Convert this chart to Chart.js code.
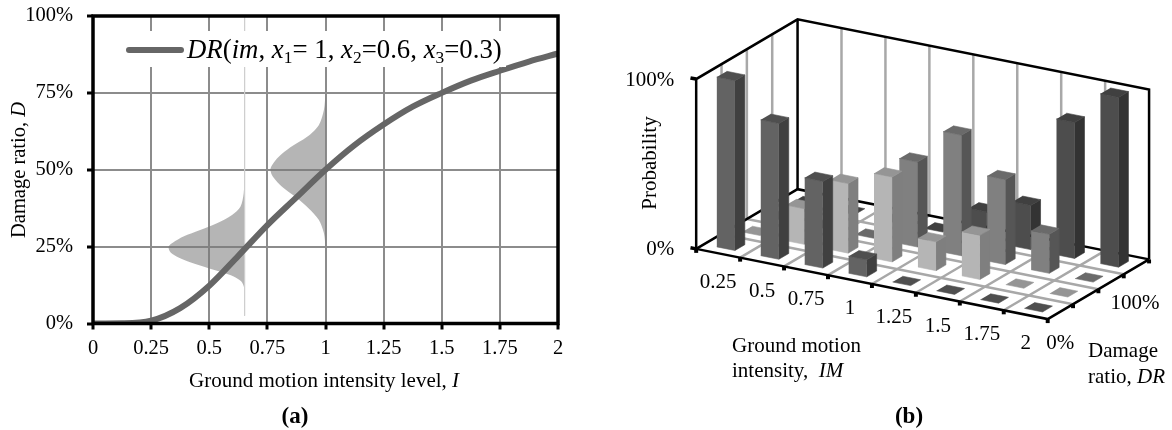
<!DOCTYPE html>
<html>
<head>
<meta charset="utf-8">
<title>Damage ratio charts</title>
<script src="https://cdn.jsdelivr.net/npm/chart.js@4/dist/chart.umd.min.js"></script>
<style>
  html, body { margin: 0; padding: 0; background: #fff; overflow: hidden; }
  canvas { position: absolute; top: 0; }
  #chartA { left: 0; }
  #chartB { left: 600px; }
</style>
</head>
<body>
<canvas id="chartA" width="590" height="430"></canvas>
<canvas id="chartB" width="572" height="430"></canvas>
<script>
// panel (a): vulnerability curve
const curveIntensity = [0, 0.125, 0.25, 0.375, 0.5, 0.625, 0.75, 0.875, 1, 1.125, 1.25, 1.375, 1.5, 1.625, 1.75, 1.875, 2];
const curveDamage = [0, 0.05, 0.9, 5, 12.3, 22, 32, 41, 50, 58, 64.7, 70.5, 75, 79, 82.2, 85.2, 87.8];

// spread of the damage ratio around two intensity levels
const spreadLowX = [0.652, 0.648, 0.634, 0.598, 0.533, 0.461, 0.389, 0.343, 0.325, 0.335, 0.368, 0.418, 0.497, 0.555, 0.605, 0.637, 0.65, 0.652];
const spreadLowD = [48.8, 42.3, 38, 35.3, 32.6, 30.4, 28.3, 26.3, 25, 23, 21.5, 19.9, 18, 16.7, 15.3, 13.7, 11.6, 7.8];
const spreadHighX = [1, 0.993, 0.971, 0.921, 0.849, 0.799, 0.77, 0.763, 0.774, 0.813, 0.871, 0.928, 0.971, 0.993, 1];
const spreadHighD = [74.8, 69.4, 64.5, 60.7, 57.3, 54.2, 51.5, 50, 47.7, 44.5, 41.2, 37.4, 33.7, 29.4, 25];
const spreadEdgeX = [0.652, 0.652];
const spreadEdgeD = [100, 2.5];

const intensityTicks = ["0", "0.25", "0.5", "0.75", "1", "1.25", "1.5", "1.75", "2"];
const damageTicks = ["0%", "25%", "50%", "75%", "100%"];

// panel (b): probability (%) per damage ratio row, front row first
const imLabels = ["0.25", "0.5", "0.75", "1", "1.25", "1.5", "1.75", "2"];
const drLabels = ["0%", "", "100%", ""];
const probRow0 = [100, 80, 51, 10, 0, 0, 0, 0];
const probRow1 = [0, 21, 41, 50, 17, 26, 0, 0];
const probRow2 = [0, 0, 0, 50, 71, 50, 23, 0];
const probRow3 = [0, 0, 0, 0, 17, 26, 80, 100];
const probRows = [probRow0, probRow1, probRow2, probRow3];

const SERIF = "'Liberation Serif', 'Times New Roman', serif";
const GRID = "#8c8c8c";

// draws runs of mixed roman/italic/subscript text, returns the width used
function richText(ctx, runs, x, y, size) {
  let cx = x;
  ctx.textAlign = "left";
  ctx.textBaseline = "alphabetic";
  ctx.fillStyle = "#000";
  runs.forEach((r) => {
    const s = r.sub ? size * 0.65 : size;
    ctx.font = (r.it ? "italic " : "") + s + "px " + SERIF;
    ctx.fillText(r.t, cx, r.sub ? y + size * 0.2 : y);
    cx += ctx.measureText(r.t).width;
  });
  return cx - x;
}

const legendRuns = [
  { t: "DR", it: 1 }, { t: "(" }, { t: "im", it: 1 }, { t: ", " },
  { t: "x", it: 1 }, { t: "1", sub: 1 }, { t: "= 1, " },
  { t: "x", it: 1 }, { t: "2", sub: 1 }, { t: "=0.6, " },
  { t: "x", it: 1 }, { t: "3", sub: 1 }, { t: "=0.3)" },
];

const panelA = {
  id: "panelA",
  afterDraw(chart) {
    const ctx = chart.ctx;
    const a = chart.chartArea;
    ctx.save();
    // legend box hides the grid behind it
    ctx.fillStyle = "#fff";
    ctx.fillRect(125, 31, 381, 36);
    ctx.strokeStyle = "#666";
    ctx.lineWidth = 6;
    ctx.lineCap = "round";
    ctx.beginPath();
    ctx.moveTo(129, 50);
    ctx.lineTo(181, 50);
    ctx.stroke();
    richText(ctx, legendRuns, 187, 58, 26.8);
    // frame
    ctx.strokeStyle = "#000";
    ctx.lineWidth = 3.5;
    ctx.lineCap = "butt";
    ctx.strokeRect(a.left, a.top, a.right - a.left, a.bottom - a.top);
    // caption and axis titles
    ctx.fillStyle = "#000";
    ctx.font = "bold 23px " + SERIF;
    ctx.textAlign = "center";
    ctx.textBaseline = "middle";
    ctx.fillText("(a)", 295, 417);
    richText(ctx, [{ t: "Ground motion intensity level, " }, { t: "I", it: 1 }], 189, 387, 21);
    ctx.translate(25, 238);
    ctx.rotate(-Math.PI / 2);
    richText(ctx, [{ t: "Damage ratio, " }, { t: "D", it: 1 }], 0, 0, 20.5);
    ctx.restore();
  },
};

const toPoints = (xs, ys) => xs.map((x, i) => ({ x: x, y: ys[i] }));

new Chart(document.getElementById("chartA"), {
  type: "scatter",
  plugins: [panelA],
  data: {
    datasets: [
      {
        data: toPoints(curveIntensity, curveDamage),
        showLine: true,
        borderColor: "#666",
        borderWidth: 6,
        pointRadius: 0,
        cubicInterpolationMode: "monotone",
      },
      {
        data: toPoints(spreadEdgeX, spreadEdgeD),
        showLine: true,
        borderColor: "#cfcfcf",
        borderWidth: 1,
        pointRadius: 0,
      },
      {
        data: toPoints(spreadLowX, spreadLowD),
        showLine: true,
        fill: "shape",
        tension: 0.3,
        backgroundColor: "rgba(120,120,120,0.55)",
        borderWidth: 0,
        pointRadius: 0,
      },
      {
        data: toPoints(spreadHighX, spreadHighD),
        showLine: true,
        fill: "shape",
        tension: 0.3,
        backgroundColor: "rgba(120,120,120,0.55)",
        borderWidth: 0,
        pointRadius: 0,
      },
    ],
  },
  options: {
    responsive: false,
    animation: false,
    devicePixelRatio: 1,
    layout: { padding: { top: 16, right: 32, left: 0, bottom: 0 } },
    plugins: {
      legend: { display: false },
      tooltip: { enabled: false },
      title: { display: false },
    },
    scales: {
      x: {
        type: "linear",
        min: 0,
        max: 2,
        afterFit: (s) => {
          s.height = 106.5;
          s.paddingLeft = 0;
          s.paddingRight = 0;
        },
        border: { display: false },
        grid: { color: GRID, lineWidth: 2, tickColor: "#000", tickWidth: 3, tickLength: 6 },
        ticks: {
          stepSize: 0.25,
          maxRotation: 0,
          padding: 7,
          color: "#000",
          font: { family: SERIF, size: 20.5 },
          callback: (v, i) => intensityTicks[i],
        },
      },
      y: {
        min: 0,
        max: 100,
        afterFit: (s) => {
          s.width = 93;
          s.paddingTop = 0;
          s.paddingBottom = 0;
        },
        border: { display: false },
        grid: { color: GRID, lineWidth: 2, tickColor: "#000", tickWidth: 3, tickLength: 6 },
        ticks: {
          stepSize: 25,
          padding: 14,
          color: "#000",
          font: { family: SERIF, size: 20.5 },
          callback: (v, i) => damageTicks[i],
        },
      },
    },
  },
});

// oblique projection of (im column, dr row, probability) onto the two axes
const SLOPE = 0.0517;
const DEPTH_X = 0.5768;
const DEPTH_Y = 0.0879;
const project = (col, row, p) => ({ x: col + row * DEPTH_X, y: p - col * SLOPE + row * DEPTH_Y });

const BAR_HALF_W = 0.206;
const BAR_HALF_D = 0.195;
const rowColors = [
  { front: "#636363", side: "#404040", top: "#4f4f4f" },
  { front: "#b5b5b5", side: "#7f7f7f", top: "#959595" },
  { front: "#808080", side: "#565656", top: "#6a6a6a" },
  { front: "#4d4d4d", side: "#333333", top: "#404040" },
];

const nCols = imLabels.length;
const nRows = probRows.length;
const paint = []; // back to front

function addLine(points, color, width) {
  paint.push({ data: points, showLine: true, borderColor: color, borderWidth: width, pointRadius: 0 });
}
function addFace(points, color) {
  paint.push({
    data: points,
    showLine: true,
    fill: "shape",
    backgroundColor: color,
    borderColor: color,
    borderWidth: 0.6,
    pointRadius: 0,
  });
}

// walls and floor grid
const WALL_GREY = "#a8a8a8";
for (let c = 1; c < nCols; c++) {
  addLine([project(c, nRows, 1), project(c, nRows, 0)], WALL_GREY, 2.5);
  addLine([project(c, 0, 0), project(c, nRows, 0)], WALL_GREY, 2.5);
}
for (let r = 1; r < nRows; r++) {
  addLine([project(0, r, 1), project(0, r, 0)], WALL_GREY, 2.5);
  addLine([project(0, r, 0), project(nCols, r, 0)], WALL_GREY, 2.5);
}

// box edges
addLine([project(0, 0, 0), project(0, 0, 1), project(0, nRows, 1), project(nCols, nRows, 1), project(nCols, nRows, 0)], "#000", 2.5);
addLine([project(0, nRows, 1), project(0, nRows, 0)], "#000", 2.5);
addLine([project(0, 0, 0), project(0, nRows, 0), project(nCols, nRows, 0)], "#000", 2.5);
addLine([project(0, 0, 0), project(nCols, 0, 0), project(nCols, nRows, 0)], "#000", 2.5);
addLine([project(-0.13, 0, 1), project(0, 0, 1)], "#000", 3.5);
addLine([project(-0.13, 0, 0), project(0, 0, 0)], "#000", 3.5);

// tick squares under the floor edges
const tickPoints = [];
for (let c = 0; c <= nCols; c++) tickPoints.push(project(c, 0, -0.012));
for (let r = 1; r <= nRows; r++) tickPoints.push(project(nCols, r, -0.012));
paint.push({ data: tickPoints, showLine: false, pointStyle: "rect", pointRadius: 2.8, pointBackgroundColor: "#000", pointBorderWidth: 0 });

// bars, far row first and left to right inside a row
for (let r = nRows - 1; r >= 0; r--) {
  probRows[r].forEach((value, c) => {
    const p = value / 100;
    const x0 = c + 0.5 - BAR_HALF_W;
    const x1 = c + 0.5 + BAR_HALF_W;
    const d0 = r + 0.5 - BAR_HALF_D;
    const d1 = r + 0.5 + BAR_HALF_D;
    const col = rowColors[r];
    if (p > 0) {
      addFace([project(x0, d0, 0), project(x1, d0, 0), project(x1, d0, p), project(x0, d0, p)], col.front);
      addFace([project(x1, d0, 0), project(x1, d1, 0), project(x1, d1, p), project(x1, d0, p)], col.side);
    }
    addFace([project(x0, d0, p), project(x1, d0, p), project(x1, d1, p), project(x0, d1, p)], col.top);
  });
}

const panelB = {
  id: "panelB",
  afterDatasetsDraw(chart) {
    const ctx = chart.ctx;
    const sx = chart.scales.x;
    const sy = chart.scales.y;
    const at = (pt) => ({ x: sx.getPixelForValue(pt.x), y: sy.getPixelForValue(pt.y) });
    ctx.save();
    ctx.fillStyle = "#000";
    ctx.font = "21px " + SERIF;
    ctx.textBaseline = "middle";
    ctx.textAlign = "center";
    imLabels.forEach((label, c) => {
      const p = at(project(c + 0.5, 0, 0));
      ctx.fillText(label, p.x, p.y + 29);
    });
    drLabels.forEach((label, r) => {
      if (!label) return;
      const p = at(project(nCols, r + 0.5, 0));
      ctx.fillText(label, p.x + (r ? 24 : 0), p.y + (r ? 22 : 32));
    });
    ctx.textAlign = "right";
    ["0%", "100%"].forEach((label, i) => {
      const p = at(project(0, 0, i));
      ctx.fillText(label, p.x - 22, p.y + 1);
    });
    ctx.textAlign = "left";
    ctx.fillText("Ground motion", 132, 346);
    ctx.fillText("Damage", 488, 351);
    richText(ctx, [{ t: "intensity,  " }, { t: "IM", it: 1 }], 132, 377, 21);
    richText(ctx, [{ t: "ratio, " }, { t: "DR", it: 1 }], 488, 383, 21);
    ctx.fillStyle = "#000";
    ctx.font = "bold 23px " + SERIF;
    ctx.textAlign = "center";
    ctx.textBaseline = "middle";
    ctx.fillText("(b)", 309, 417);
    ctx.font = "21px " + SERIF;
    ctx.translate(50, 163);
    ctx.rotate(-Math.PI / 2);
    ctx.fillText("Probability", 0, 0);
    ctx.restore();
  },
};

new Chart(document.getElementById("chartB"), {
  type: "scatter",
  plugins: [panelB],
  data: { datasets: paint.slice().reverse() },
  options: {
    responsive: false,
    animation: false,
    devicePixelRatio: 1,
    plugins: { legend: { display: false }, tooltip: { enabled: false }, title: { display: false } },
    scales: {
      x: { type: "linear", display: false, min: -2.098, max: 10.738 },
      y: { display: false, min: -1.0434, max: 1.4422 },
    },
  },
});
</script>
</body>
</html>
